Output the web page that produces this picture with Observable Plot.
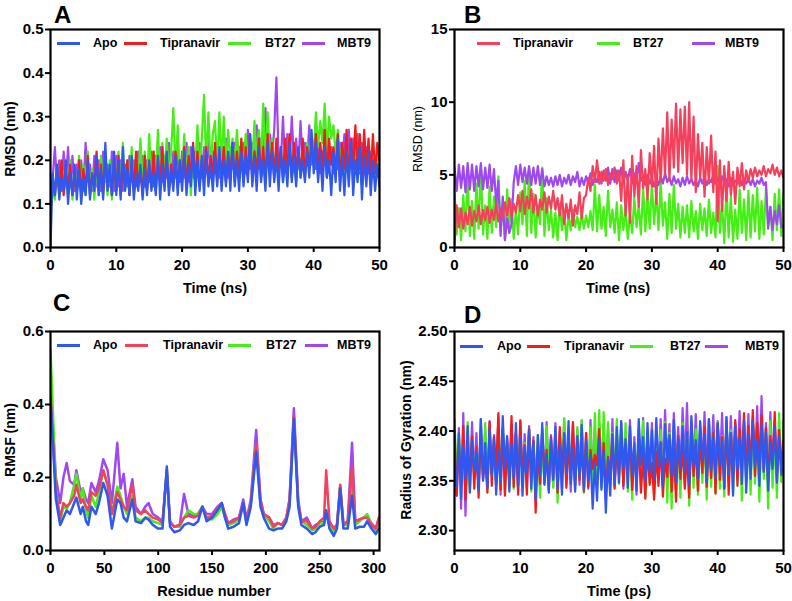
<!DOCTYPE html>
<html>
<head>
<meta charset="utf-8">
<script src="https://cdn.jsdelivr.net/npm/d3@7"></script>
<script src="https://cdn.jsdelivr.net/npm/@observablehq/plot@0.6"></script>
<style>
  html, body { margin: 0; padding: 0; background: #fff; }
  #fig { position: relative; width: 792px; height: 601px; background: #fff; overflow: hidden;
         font-family: "Liberation Sans", Arial, sans-serif; color: #000; }
  .panel { position: absolute; }
  .letter { position: absolute; font-weight: bold; font-size: 24px; line-height: 1; }
  .title { position: absolute; font-weight: bold; font-size: 14.5px; white-space: nowrap; line-height: 1; }
  .ytitle { position: absolute; font-weight: bold; font-size: 14px; white-space: nowrap; line-height: 1;
            transform: translate(-50%, -50%) rotate(-90deg); }
  .leg { position: absolute; font-weight: bold; font-size: 12.5px; white-space: nowrap; line-height: 1; }
  .sw { position: absolute; height: 3px; width: 23px; }
</style>
</head>
<body>
<div id="fig"></div>
<script>
// ---------------- data ----------------
const seriesNames = ["Apo", "Tipranavir", "BT27", "MBT9"];
const panelLetters = ["A", "B", "C", "D"];
const timeTicks = [0, 10, 20, 30, 40, 50];

// Panel A: protein backbone RMSD (nm), 0–50 ns (one row = 5 ns)
const rmsdApo = [
0.00,0.17,0.12,0.19,0.11,0.16,0.13,0.20,0.10,0.17,0.12,0.19,0.11,0.18,0.10,
0.16,0.12,0.20,0.11,0.17,0.13,0.21,0.12,0.18,0.11,0.24,0.13,0.19,0.12,0.22,
0.12,0.20,0.11,0.23,0.13,0.18,0.12,0.21,0.11,0.17,0.13,0.19,0.11,0.18,0.12,
0.20,0.13,0.17,0.12,0.21,0.11,0.19,0.13,0.22,0.12,0.18,0.13,0.21,0.12,0.20,
0.13,0.22,0.12,0.19,0.14,0.23,0.12,0.20,0.13,0.21,0.12,0.22,0.14,0.19,0.13,
0.21,0.14,0.23,0.13,0.20,0.14,0.22,0.13,0.24,0.14,0.20,0.13,0.22,0.14,0.21,
0.15,0.26,0.14,0.21,0.13,0.23,0.15,0.20,0.13,0.24,0.14,0.22,0.15,0.21,0.13,
0.23,0.15,0.20,0.14,0.24,0.15,0.21,0.14,0.23,0.16,0.20,0.15,0.22,0.16,0.27,
0.17,0.24,0.15,0.22,0.13,0.23,0.16,0.20,0.12,0.22,0.15,0.25,0.13,0.21,0.12,
0.22,0.14,0.24,0.12,0.20,0.15,0.23,0.11,0.21,0.14,0.22,0.12,0.20,0.13,0.19,
0.14];
const rmsdTip = [
0.09,0.15,0.12,0.18,0.13,0.20,0.12,0.17,0.14,0.19,0.12,0.16,0.13,0.20,0.12,
0.18,0.13,0.21,0.12,0.17,0.14,0.22,0.13,0.19,0.12,0.20,0.14,0.18,0.12,0.19,
0.13,0.21,0.12,0.18,0.14,0.20,0.12,0.19,0.13,0.22,0.14,0.18,0.12,0.21,0.13,
0.19,0.14,0.22,0.13,0.20,0.15,0.23,0.14,0.21,0.13,0.19,0.15,0.22,0.14,0.20,
0.15,0.23,0.14,0.21,0.16,0.24,0.15,0.22,0.14,0.20,0.16,0.23,0.15,0.21,0.16,
0.24,0.15,0.22,0.16,0.23,0.15,0.21,0.17,0.24,0.15,0.22,0.16,0.25,0.15,0.23,
0.16,0.26,0.15,0.22,0.17,0.25,0.16,0.23,0.15,0.26,0.17,0.24,0.16,0.25,0.17,
0.23,0.16,0.25,0.17,0.26,0.16,0.24,0.18,0.22,0.17,0.25,0.16,0.23,0.18,0.24,
0.19,0.26,0.17,0.24,0.18,0.27,0.16,0.25,0.19,0.23,0.17,0.26,0.15,0.24,0.18,
0.27,0.16,0.25,0.18,0.28,0.17,0.26,0.15,0.27,0.18,0.25,0.16,0.26,0.17,0.24,
0.20];
const rmsdBT27 = [
0.09,0.13,0.11,0.17,0.12,0.19,0.13,0.16,0.12,0.20,0.11,0.18,0.13,0.21,0.12,
0.19,0.12,0.22,0.13,0.18,0.11,0.20,0.12,0.21,0.13,0.19,0.12,0.20,0.11,0.18,
0.13,0.22,0.12,0.24,0.13,0.20,0.14,0.23,0.12,0.21,0.14,0.25,0.15,0.22,0.14,
0.26,0.15,0.22,0.16,0.27,0.15,0.24,0.17,0.25,0.16,0.22,0.32,0.17,0.28,0.16,
0.17,0.26,0.16,0.23,0.12,0.22,0.18,0.28,0.17,0.25,0.35,0.19,0.31,0.18,0.26,
0.29,0.18,0.31,0.19,0.30,0.18,0.27,0.20,0.25,0.18,0.27,0.19,0.24,0.18,0.26,
0.19,0.25,0.18,0.29,0.20,0.27,0.19,0.33,0.18,0.31,0.20,0.25,0.17,0.23,0.16,
0.22,0.15,0.21,0.17,0.23,0.16,0.20,0.15,0.22,0.16,0.21,0.17,0.24,0.18,0.26,
0.21,0.31,0.23,0.29,0.24,0.33,0.22,0.30,0.25,0.28,0.21,0.27,0.19,0.24,0.17,
0.23,0.16,0.22,0.15,0.24,0.16,0.21,0.14,0.23,0.16,0.22,0.15,0.20,0.16,0.21,
0.17];
const rmsdMBT9 = [
0.12,0.16,0.23,0.14,0.20,0.13,0.22,0.15,0.23,0.14,0.21,0.13,0.19,0.14,0.20,
0.13,0.24,0.15,0.19,0.13,0.21,0.14,0.20,0.13,0.22,0.15,0.19,0.14,0.22,0.13,
0.21,0.14,0.20,0.13,0.19,0.14,0.21,0.15,0.20,0.14,0.22,0.15,0.21,0.14,0.20,
0.15,0.22,0.14,0.21,0.16,0.23,0.15,0.21,0.16,0.24,0.15,0.22,0.16,0.23,0.15,
0.22,0.16,0.24,0.15,0.23,0.16,0.22,0.17,0.24,0.16,0.23,0.17,0.25,0.16,0.22,
0.17,0.24,0.16,0.23,0.17,0.25,0.16,0.22,0.18,0.24,0.17,0.23,0.18,0.24,0.17,
0.27,0.18,0.24,0.19,0.28,0.18,0.25,0.20,0.32,0.19,0.26,0.21,0.27,0.39,0.20,
0.19,0.30,0.18,0.26,0.19,0.30,0.20,0.25,0.18,0.29,0.19,0.24,0.20,0.28,0.19,
0.23,0.18,0.24,0.17,0.22,0.19,0.25,0.18,0.23,0.17,0.22,0.18,0.24,0.19,0.26,
0.18,0.27,0.19,0.25,0.18,0.26,0.17,0.24,0.18,0.23,0.17,0.22,0.18,0.21,0.17,
0.19];
const rmsdATicks = [0.0, 0.1, 0.2, 0.3, 0.4, 0.5];

// Panel B: ligand RMSD (nm), 0–50 ns (one row = 5 ns)
const ligTip = [
0.2,2.9,1.4,2.7,1.3,2.4,1.6,2.8,1.5,2.5,1.8,2.9,1.6,2.6,1.9,
2.8,1.7,2.6,1.9,3.0,1.8,2.7,2.0,3.1,2.2,3.4,2.1,3.0,2.4,3.6,
2.5,3.9,2.3,3.5,2.7,4.0,2.4,3.6,2.2,3.3,2.6,3.8,2.4,3.5,2.7,
3.9,2.6,3.4,2.2,3.6,1.6,3.0,2.0,3.3,1.5,2.9,2.3,3.8,2.0,3.4,
3.6,4.8,3.9,5.6,4.5,6.0,4.4,5.2,4.6,5.4,4.3,5.1,4.7,5.5,4.4,
5.3,3.2,6.0,2.2,5.0,1.7,6.3,3.5,5.6,2.8,6.7,4.1,5.4,3.3,6.5,
4.2,7.0,3.0,7.5,4.5,8.2,5.0,9.3,4.6,8.8,5.5,9.9,5.2,9.5,5.8,
9.7,5.0,10.0,4.6,9.0,3.8,7.8,4.8,7.2,3.5,6.9,4.4,7.7,3.8,6.6,
1.8,6.0,2.5,5.6,3.2,5.9,3.6,5.2,3.0,5.5,4.2,5.8,4.0,5.3,4.5,
5.4,4.8,5.5,4.9,5.3,5.0,5.6,4.9,5.4,5.1,5.7,5.0,5.5,4.9,5.3,
4.8];
const ligBT27 = [
3.9,0.9,2.7,0.5,3.6,1.1,4.9,0.8,3.2,0.6,4.4,1.3,5.6,0.9,2.9,
0.6,4.2,1.0,3.5,1.4,4.9,1.1,3.0,0.5,4.0,1.5,3.3,0.6,2.6,0.9,
3.8,1.6,4.6,0.8,5.5,1.0,3.7,0.7,2.9,1.6,5.5,0.8,3.4,1.2,2.6,
0.7,2.4,0.5,3.0,1.2,2.6,0.5,2.2,1.2,2.6,1.4,2.1,1.2,2.4,1.3,
2.2,1.4,2.5,1.2,4.3,1.1,3.6,1.3,2.8,0.8,3.9,1.4,2.6,1.0,3.1,
0.5,2.9,1.2,2.7,0.6,2.3,1.0,3.4,1.4,2.9,0.9,4.1,1.1,3.5,1.3,
4.4,1.6,3.8,1.2,4.5,1.5,3.1,0.6,3.7,1.0,4.3,1.3,3.0,0.7,2.8,
1.0,2.9,0.7,3.2,1.1,2.5,0.6,3.0,1.2,2.7,0.8,3.3,1.0,2.4,0.7,
5.6,1.0,3.0,0.3,4.1,0.7,3.5,0.4,2.6,0.6,4.0,1.0,3.3,0.5,3.9,
0.7,3.6,1.1,4.1,0.6,3.2,0.9,4.1,1.5,2.8,0.5,3.7,1.2,4.0,0.8,
3.7];
const ligMBT9 = [
5.5,3.9,5.7,4.1,5.6,3.8,5.8,4.0,5.7,3.9,5.6,4.2,5.8,4.0,5.5,
4.1,5.7,3.9,5.4,3.0,4.6,0.8,3.5,0.5,2.0,1.0,1.6,4.5,5.6,4.3,
5.7,4.5,5.5,4.4,5.6,4.3,5.5,4.4,5.6,4.3,5.4,4.2,4.9,4.3,4.8,
4.2,4.9,4.3,5.0,4.2,4.8,4.4,5.0,4.3,4.9,4.5,5.2,4.2,4.8,4.3,
4.9,4.4,5.1,4.3,4.8,4.5,5.2,4.4,5.3,4.6,5.5,4.4,5.4,4.5,5.3,
4.6,5.5,4.5,5.2,4.6,5.4,4.4,5.1,4.5,5.8,4.6,4.9,4.3,5.0,4.4,
4.8,4.2,4.7,4.3,4.9,4.4,5.1,4.5,4.8,4.3,4.9,4.4,4.7,4.2,4.8,
4.3,4.9,4.4,4.7,4.3,4.6,4.2,4.8,4.4,4.9,4.3,4.7,4.5,5.0,4.4,
4.8,4.3,4.9,4.4,4.7,4.2,4.8,4.3,4.6,4.4,4.9,4.3,4.7,4.4,4.8,
4.3,4.7,4.2,4.6,4.4,4.8,4.3,4.5,1.3,2.8,1.2,2.5,1.6,2.9,1.4,
1.5];
const ligTicks = [0, 5, 10, 15];

// Panel C: RMSF (nm) per residue
const residues = [0,5,9,12,15,18,22,24,28,30,33,35,38,42,45,49,53,57,62,65,68,71,76,79,84,88,91,95,100,104,108,111,115,120,124,128,133,137,141,145,150,155,159,162,165,170,175,179,182,186,191,195,198,203,207,211,215,219,222,226,230,233,238,243,246,250,254,256,259,263,266,269,272,276,280,283,287,291,294,298,302,305];
const rmsfApo = [0.42,0.14,0.07,0.09,0.11,0.10,0.13,0.145,0.10,0.12,0.08,0.07,0.12,0.10,0.13,0.185,0.15,0.06,0.14,0.13,0.09,0.08,0.14,0.08,0.075,0.09,0.085,0.07,0.06,0.06,0.23,0.065,0.05,0.055,0.07,0.075,0.07,0.08,0.12,0.08,0.09,0.11,0.13,0.09,0.06,0.065,0.075,0.13,0.07,0.12,0.27,0.12,0.09,0.06,0.055,0.06,0.06,0.08,0.12,0.36,0.12,0.07,0.06,0.045,0.05,0.065,0.07,0.11,0.06,0.04,0.06,0.17,0.06,0.06,0.15,0.06,0.065,0.065,0.08,0.06,0.045,0.06];
const rmsfTip = [0.43,0.16,0.09,0.13,0.12,0.13,0.15,0.18,0.13,0.14,0.12,0.11,0.16,0.15,0.17,0.22,0.18,0.10,0.16,0.14,0.12,0.11,0.18,0.11,0.10,0.11,0.10,0.09,0.085,0.075,0.22,0.075,0.065,0.07,0.09,0.095,0.09,0.095,0.12,0.09,0.095,0.115,0.13,0.10,0.075,0.08,0.09,0.13,0.08,0.13,0.29,0.14,0.10,0.09,0.065,0.075,0.07,0.09,0.14,0.37,0.13,0.08,0.08,0.06,0.065,0.08,0.09,0.22,0.08,0.06,0.07,0.18,0.07,0.08,0.23,0.08,0.085,0.09,0.09,0.07,0.06,0.09];
const rmsfBT27 = [0.55,0.17,0.08,0.12,0.115,0.13,0.18,0.21,0.14,0.17,0.11,0.09,0.15,0.12,0.16,0.22,0.18,0.10,0.175,0.15,0.12,0.10,0.15,0.09,0.08,0.09,0.09,0.08,0.075,0.07,0.22,0.075,0.065,0.065,0.09,0.11,0.10,0.10,0.12,0.09,0.085,0.10,0.12,0.09,0.07,0.075,0.085,0.13,0.075,0.13,0.29,0.13,0.10,0.08,0.06,0.075,0.07,0.09,0.13,0.36,0.13,0.08,0.07,0.055,0.06,0.075,0.075,0.10,0.07,0.05,0.065,0.175,0.07,0.07,0.19,0.07,0.08,0.09,0.10,0.07,0.055,0.08];
const rmsfMBT9 = [0.45,0.20,0.13,0.20,0.24,0.19,0.18,0.22,0.16,0.17,0.14,0.13,0.185,0.16,0.19,0.25,0.22,0.13,0.295,0.17,0.21,0.12,0.195,0.12,0.10,0.12,0.13,0.10,0.09,0.08,0.21,0.08,0.065,0.07,0.155,0.10,0.095,0.10,0.12,0.10,0.10,0.12,0.13,0.10,0.075,0.085,0.09,0.14,0.085,0.14,0.33,0.14,0.10,0.09,0.07,0.075,0.07,0.09,0.14,0.39,0.14,0.08,0.09,0.06,0.07,0.075,0.08,0.10,0.08,0.06,0.07,0.175,0.07,0.08,0.295,0.08,0.085,0.09,0.095,0.075,0.06,0.09];
const rmsfTicks = [0.0, 0.2, 0.4, 0.6];
const residueTicks = [0, 50, 100, 150, 200, 250, 300];

// Panel D: radius of gyration (nm), 0–50 ps (one row = 5 ps)
const rgApo = [
2.370,2.345,2.398,2.332,2.385,2.352,2.405,2.338,2.391,2.360,2.378,2.341,2.412,2.350,2.388,
2.343,2.402,2.356,2.392,2.336,2.381,2.348,2.415,2.362,2.395,2.339,2.387,2.353,2.408,2.345,
2.393,2.335,2.384,2.358,2.401,2.342,2.389,2.331,2.396,2.355,2.408,2.346,2.377,2.338,2.392,
2.351,2.404,2.342,2.386,2.336,2.398,2.359,2.410,2.347,2.383,2.339,2.395,2.354,2.406,2.341,
2.390,2.350,2.376,2.322,2.368,2.330,2.392,2.341,2.380,2.318,2.372,2.335,2.397,2.346,2.404,
2.348,2.410,2.362,2.392,2.343,2.405,2.357,2.388,2.340,2.412,2.366,2.394,2.350,2.408,2.359,
2.401,2.352,2.413,2.364,2.389,2.345,2.407,2.368,2.396,2.355,2.411,2.348,2.392,2.362,2.405,
2.358,2.399,2.346,2.415,2.365,2.391,2.352,2.410,2.370,2.397,2.349,2.412,2.361,2.394,2.353,
2.408,2.366,2.390,2.343,2.414,2.357,2.398,2.335,2.405,2.361,2.393,2.347,2.411,2.338,2.396,
2.352,2.410,2.364,2.391,2.345,2.407,2.359,2.399,2.340,2.388,2.362,2.404,2.348,2.395,2.356,
2.380];
const rgTip = [
2.400,2.335,2.388,2.347,2.405,2.331,2.378,2.356,2.395,2.342,2.384,2.333,2.399,2.351,2.372,
2.338,2.409,2.345,2.394,2.359,2.418,2.341,2.402,2.335,2.389,2.352,2.415,2.344,2.397,2.336,
2.410,2.348,2.386,2.336,2.402,2.355,2.390,2.318,2.383,2.347,2.398,2.358,2.381,2.340,2.394,
2.353,2.387,2.338,2.404,2.357,2.396,2.343,2.382,2.360,2.409,2.345,2.392,2.351,2.385,2.339,
2.398,2.344,2.381,2.362,2.376,2.366,2.402,2.348,2.388,2.339,2.374,2.355,2.396,2.342,2.385,
2.357,2.394,2.345,2.383,2.361,2.397,2.341,2.378,2.352,2.389,2.338,2.375,2.332,2.386,2.346,
2.368,2.331,2.379,2.345,2.388,2.334,2.372,2.354,2.392,2.339,2.381,2.329,2.395,2.352,2.384,
2.342,2.377,2.333,2.396,2.355,2.386,2.340,2.393,2.358,2.404,2.344,2.389,2.353,2.398,2.337,
2.407,2.351,2.394,2.342,2.410,2.336,2.398,2.357,2.411,2.345,2.402,2.362,2.418,2.350,2.405,
2.364,2.421,2.355,2.408,2.368,2.416,2.360,2.403,2.349,2.395,2.366,2.419,2.352,2.401,2.363,
2.390];
const rgBT27 = [
2.412,2.352,2.398,2.343,2.387,2.358,2.409,2.339,2.395,2.355,2.384,2.346,2.401,2.360,2.408,
2.341,2.397,2.357,2.386,2.344,2.412,2.353,2.399,2.337,2.388,2.350,2.403,2.342,2.391,2.356,
2.398,2.345,2.388,2.354,2.402,2.339,2.384,2.352,2.396,2.333,2.389,2.348,2.405,2.357,2.386,
2.343,2.401,2.328,2.392,2.355,2.413,2.346,2.397,2.358,2.385,2.341,2.404,2.353,2.411,2.338,
2.391,2.356,2.404,2.345,2.418,2.352,2.421,2.343,2.419,2.358,2.409,2.341,2.398,2.354,2.412,
2.347,2.401,2.356,2.408,2.339,2.396,2.331,2.388,2.352,2.403,2.344,2.410,2.334,2.394,2.348,
2.397,2.335,2.386,2.353,2.401,2.342,2.409,2.328,2.398,2.322,2.405,2.345,2.392,2.333,2.408,
2.346,2.399,2.325,2.411,2.343,2.402,2.336,2.408,2.348,2.395,2.331,2.412,2.344,2.397,2.338,
2.409,2.342,2.395,2.334,2.414,2.348,2.401,2.336,2.407,2.351,2.398,2.330,2.411,2.345,2.400,
2.336,2.413,2.347,2.398,2.329,2.409,2.352,2.402,2.322,2.410,2.343,2.399,2.333,2.418,2.349,
2.410];
const rgMBT9 = [
2.392,2.335,2.403,2.322,2.418,2.315,2.397,2.344,2.409,2.353,2.398,2.341,2.412,2.356,2.400,
2.343,2.410,2.357,2.396,2.346,2.414,2.336,2.402,2.358,2.393,2.345,2.407,2.352,2.399,2.340,
2.411,2.354,2.397,2.343,2.405,2.360,2.394,2.338,2.388,2.355,2.403,2.347,2.409,2.351,2.396,
2.344,2.408,2.356,2.399,2.341,2.412,2.353,2.395,2.339,2.406,2.357,2.401,2.346,2.410,2.352,
2.398,2.342,2.411,2.355,2.401,2.345,2.407,2.359,2.396,2.334,2.403,2.351,2.412,2.344,2.399,
2.356,2.409,2.342,2.398,2.353,2.411,2.347,2.394,2.336,2.402,2.358,2.413,2.345,2.397,2.354,
2.408,2.352,2.398,2.363,2.412,2.355,2.421,2.366,2.407,2.351,2.418,2.362,2.404,2.357,2.423,
2.364,2.428,2.353,2.409,2.367,2.417,2.355,2.404,2.362,2.419,2.351,2.411,2.365,2.416,2.356,
2.410,2.363,2.418,2.352,2.407,2.366,2.415,2.354,2.409,2.368,2.420,2.357,2.406,2.364,2.417,
2.353,2.411,2.366,2.425,2.355,2.435,2.362,2.408,2.351,2.419,2.364,2.410,2.356,2.402,2.361,
2.390];
const rgTicks = [2.30, 2.35, 2.40, 2.45, 2.50];

// ---------------- styling ----------------
const C_BLUE = "#2f58f0", C_RED = "#f21c1c", C_PINK = "#f5405c", C_GREEN = "#45ee14", C_PURPLE = "#a048f0";
const FONT = "'Liberation Sans', Arial, sans-serif";
const fig = document.getElementById("fig");

function uniformTimes(values, t1) {
  const n = values.length;
  return values.map((_, i) => i * t1 / (n - 1));
}

function makePanel(cfg) {
  const marks = [];
  for (const s of cfg.series) {
    const xs = s.xs;
    marks.push(Plot.line(s.values, {
      x: (d, i) => xs[i], y: d => d,
      stroke: s.color, strokeWidth: cfg.lineWidth, clip: true,
      strokeLinejoin: "round"
    }));
  }
  marks.push(Plot.axisX({ticks: cfg.xTicks, tickSize: 5, tickPadding: 7, strokeWidth: 2,
                         label: null, tickFormat: d3.format("d"), fontWeight: "bold"}));
  marks.push(Plot.axisY({ticks: cfg.yTicks, tickSize: 5, tickPadding: 2, strokeWidth: 2,
                         label: null, tickFormat: d3.format(cfg.yFormat), fontWeight: "bold"}));
  marks.push(Plot.frame({stroke: "#000", strokeWidth: 2.2}));
  const svg = Plot.plot({
    width: cfg.w, height: cfg.h,
    marginTop: cfg.m[0], marginRight: cfg.m[1], marginBottom: cfg.m[2], marginLeft: cfg.m[3],
    x: {domain: cfg.xDomain},
    y: {domain: cfg.yDomain},
    style: {fontFamily: FONT, fontSize: "15px", fontWeight: "bold", color: "#000", background: "transparent", overflow: "visible"},
    marks
  });
  const div = document.createElement("div");
  div.className = "panel";
  div.style.left = cfg.left + "px";
  div.style.top = cfg.top + "px";
  div.appendChild(svg);
  fig.appendChild(div);
}

function addText(cls, text, x, y, extra = {}) {
  const el = document.createElement("div");
  el.className = cls;
  el.textContent = text;
  el.style.left = x + "px";
  el.style.top = y + "px";
  Object.assign(el.style, extra);
  fig.appendChild(el);
  return el;
}

function addLegend(items, y) {
  for (const it of items) {
    const sw = document.createElement("div");
    sw.className = "sw";
    sw.style.left = it.sx + "px";
    sw.style.top = (y - 1.5) + "px";
    sw.style.background = it.color;
    fig.appendChild(sw);
    addText("leg", it.name, it.tx, y - 6);
  }
}

// ---------------- panel A ----------------
makePanel({
  left: 0, top: 0, w: 396, h: 300, m: [29, 17, 53, 50],
  xDomain: [0, 50], yDomain: [0, 0.5], xTicks: timeTicks, yTicks: rmsdATicks, yFormat: ".1f", lineWidth: 2.2,
  series: [
    {values: rmsdMBT9, xs: uniformTimes(rmsdMBT9, 50), color: C_PURPLE},
    {values: rmsdBT27, xs: uniformTimes(rmsdBT27, 50), color: C_GREEN},
    {values: rmsdTip, xs: uniformTimes(rmsdTip, 50), color: C_RED},
    {values: rmsdApo, xs: uniformTimes(rmsdApo, 50), color: C_BLUE}
  ]
});
// ---------------- panel B ----------------
makePanel({
  left: 396, top: 0, w: 396, h: 300, m: [29, 9, 53, 58],
  xDomain: [0, 50], yDomain: [0, 15], xTicks: timeTicks, yTicks: ligTicks, yFormat: "d", lineWidth: 2.2,
  series: [
    {values: ligBT27, xs: uniformTimes(ligBT27, 50), color: C_GREEN},
    {values: ligMBT9, xs: uniformTimes(ligMBT9, 50), color: C_PURPLE},
    {values: ligTip, xs: uniformTimes(ligTip, 50), color: C_PINK}
  ]
});
// ---------------- panel C ----------------
makePanel({
  left: 0, top: 300, w: 396, h: 301, m: [31, 17, 51, 50],
  xDomain: [0, 305.5], yDomain: [0, 0.6], xTicks: residueTicks, yTicks: rmsfTicks, yFormat: ".1f", lineWidth: 2.5,
  series: [
    {values: rmsfMBT9, xs: residues, color: C_PURPLE},
    {values: rmsfBT27, xs: residues, color: C_GREEN},
    {values: rmsfTip, xs: residues, color: C_PINK},
    {values: rmsfApo, xs: residues, color: C_BLUE}
  ]
});
// ---------------- panel D ----------------
makePanel({
  left: 396, top: 300, w: 396, h: 301, m: [31, 9, 51, 58],
  xDomain: [0, 50], yDomain: [2.28, 2.50], xTicks: timeTicks, yTicks: rgTicks, yFormat: ".2f", lineWidth: 2.2,
  series: [
    {values: rgMBT9, xs: uniformTimes(rgMBT9, 50), color: C_PURPLE},
    {values: rgBT27, xs: uniformTimes(rgBT27, 50), color: C_GREEN},
    {values: rgTip, xs: uniformTimes(rgTip, 50), color: C_RED},
    {values: rgApo, xs: uniformTimes(rgApo, 50), color: C_BLUE}
  ]
});

// ---------------- letters & titles ----------------
addText("letter", panelLetters[0], 54, 3);
addText("letter", panelLetters[1], 464, 3);
addText("letter", panelLetters[2], 53, 291);
addText("letter", panelLetters[3], 464, 303);

addText("title", "Time (ns)", 215, 281, {transform: "translateX(-50%)"});
addText("title", "Time (ns)", 618, 281, {transform: "translateX(-50%)"});
addText("title", "Residue number", 214, 584, {transform: "translateX(-50%)"});
addText("title", "Time (ps)", 619, 584, {transform: "translateX(-50%)"});

addText("ytitle", "RMSD (nm)", 10, 139);
addText("ytitle", "RMSD (nm)", 418, 139, {fontWeight: "normal", fontSize: "12.5px"});
addText("ytitle", "RMSF (nm)", 10, 440);
addText("ytitle", "Radius of Gyration (nm)", 406, 440);

// ---------------- legends ----------------
addLegend([
  {name: seriesNames[0], color: C_BLUE, sx: 57, tx: 93},
  {name: seriesNames[1], color: C_RED, sx: 124, tx: 160},
  {name: seriesNames[2], color: C_GREEN, sx: 228, tx: 265},
  {name: seriesNames[3], color: C_PURPLE, sx: 302, tx: 337}
], 43);
addLegend([
  {name: seriesNames[1], color: C_PINK, sx: 477, tx: 513},
  {name: seriesNames[2], color: C_GREEN, sx: 597, tx: 633},
  {name: seriesNames[3], color: C_PURPLE, sx: 692, tx: 725}
], 43);
addLegend([
  {name: seriesNames[0], color: C_BLUE, sx: 57, tx: 93},
  {name: seriesNames[1], color: C_PINK, sx: 125, tx: 163},
  {name: seriesNames[2], color: C_GREEN, sx: 228, tx: 266},
  {name: seriesNames[3], color: C_PURPLE, sx: 305, tx: 337}
], 345);
addLegend([
  {name: seriesNames[0], color: C_BLUE, sx: 460, tx: 497},
  {name: seriesNames[1], color: C_RED, sx: 527, tx: 564},
  {name: seriesNames[2], color: C_GREEN, sx: 630, tx: 670},
  {name: seriesNames[3], color: C_PURPLE, sx: 705, tx: 745}
], 346);
</script>
</body>
</html>
